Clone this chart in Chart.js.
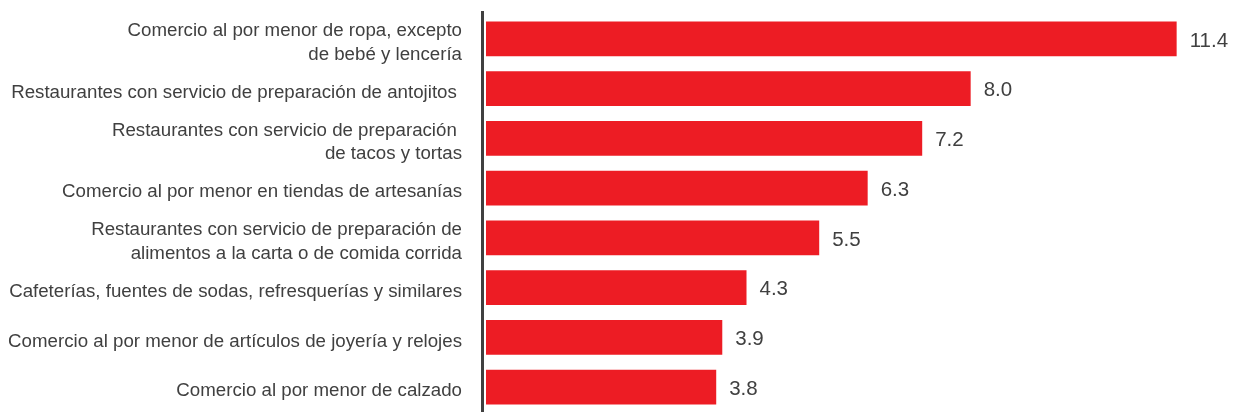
<!DOCTYPE html>
<html>
<head>
<meta charset="utf-8">
<script src="https://cdn.jsdelivr.net/npm/chart.js@4/dist/chart.umd.min.js"></script>
<style>
  body { margin: 0; background: #fff; }
  #wrap { width: 1233px; height: 412px; }
</style>
</head>
<body>
<div id="wrap"><canvas id="chart" width="1233" height="412"></canvas></div>
<script>
const categories = [
  ['Comercio al por menor de ropa, excepto', 'de bebé y lencería'],
  'Restaurantes con servicio de preparación de antojitos ',
  ['Restaurantes con servicio de preparación ', 'de tacos y tortas'],
  'Comercio al por menor en tiendas de artesanías',
  ['Restaurantes con servicio de preparación de', 'alimentos a la carta o de comida corrida'],
  'Cafeterías, fuentes de sodas, refresquerías y similares',
  'Comercio al por menor de artículos de joyería y relojes',
  'Comercio al por menor de calzado'
];
const values = [11.4, 8.0, 7.2, 6.3, 5.5, 4.3, 3.9, 3.8];
const valueLabels = ['11.4', '8.0', '7.2', '6.3', '5.5', '4.3', '3.9', '3.8'];

const textColor = '#404040';

// axis line a few px left of the bars, and value labels after each bar
const extras = {
  id: 'extras',
  afterDatasetsDraw(chart) {
    const ctx = chart.ctx;
    const area = chart.chartArea;
    ctx.save();
    ctx.strokeStyle = '#404040';
    ctx.lineWidth = 3;
    ctx.beginPath();
    ctx.moveTo(area.left - 3.5, area.top - 3);
    ctx.lineTo(area.left - 3.5, chart.height);
    ctx.stroke();

    ctx.fillStyle = textColor;
    ctx.font = '20.5px "Liberation Sans", Arial, sans-serif';
    ctx.textAlign = 'left';
    ctx.textBaseline = 'middle';
    chart.getDatasetMeta(0).data.forEach((bar, i) => {
      ctx.fillText(valueLabels[i], bar.x + 13, bar.y + 2);
    });
    ctx.restore();
  }
};

new Chart(document.getElementById('chart'), {
  type: 'bar',
  data: {
    labels: categories,
    datasets: [{
      data: values,
      backgroundColor: '#ED1C24',
      borderWidth: 0,
      barPercentage: 0.7,
      categoryPercentage: 1.0
    }]
  },
  options: {
    indexAxis: 'y',
    responsive: false,
    animation: false,
    layout: { padding: { top: 14, right: 20, bottom: 0, left: 0 } },
    plugins: {
      legend: { display: false },
      tooltip: { enabled: false }
    },
    scales: {
      x: {
        display: false,
        min: 0,
        max: 12
      },
      y: {
        afterFit(scale) {
          scale.width = 486;
          scale.paddingTop = 0;
          scale.paddingBottom = 0;
        },
        border: { display: false },
        grid: { display: false, drawTicks: false },
        ticks: {
          color: textColor,
          padding: 24,
          labelOffset: 4,
          font: { family: '"Liberation Sans", Arial, sans-serif', size: 18.7, lineHeight: 1.25 }
        }
      }
    }
  },
  plugins: [extras]
});
</script>
</body>
</html>
